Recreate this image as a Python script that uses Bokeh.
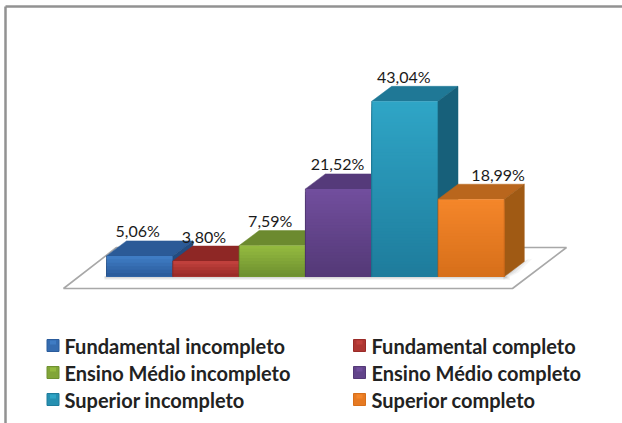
from bokeh.embed import file_html
from bokeh.resources import INLINE
from bokeh.plotting import figure
from bokeh.core.properties import value as fixed

# Education level shares, in percent
categories = ["Fundamental incompleto", "Fundamental completo", "Ensino Médio incompleto",
              "Ensino Médio completo", "Superior incompleto", "Superior completo"]
values = [5.06, 3.80, 7.59, 21.52, 43.04, 18.99]
labels = ["5,06%", "3,80%", "7,59%", "21,52%", "43,04%", "18,99%"]

front_light = ["#3f7cc4", "#c0403c", "#93b93f", "#714e9d", "#2fa5c6", "#f4862a"]
front_dark = ["#2b5c9c", "#9a2b28", "#6f9130", "#543977", "#1e7c9c", "#d76f1a"]
top_colors = ["#2b5a97", "#8e2725", "#6c8a2f", "#553a7a", "#1f7896", "#b9661d"]
side_colors = ["#234c80", "#7c201f", "#5a7526", "#462f66", "#17607a", "#a05a14"]
label_shift_px = [-2, -2, -2, -1, -1, 27]

W, H = 622, 423
PX_PER_BAR = 66.3
PX_PER_PCT = 4.07
LEFT_PX, BASE_PX = 106, 276
DX = 20 / PX_PER_BAR      # receding depth along x, in bar widths
DY = 15 / PX_PER_PCT      # receding depth along y, in percentage points


def px(x):
    return (x - LEFT_PX) / PX_PER_BAR


def py(y):
    return (BASE_PX - y) / PX_PER_PCT


def mix(a, b, t):
    ca = [int(a[i:i + 2], 16) for i in (1, 3, 5)]
    cb = [int(b[i:i + 2], 16) for i in (1, 3, 5)]
    return "#%02x%02x%02x" % tuple(round(u + (v - u) * t) for u, v in zip(ca, cb))


p = figure(width=W, height=H, output_backend="svg", toolbar_location=None,
           x_range=(px(0), px(W)), y_range=(py(H), py(0)),
           min_border=0, outline_line_color=None, background_fill_color="white")
p.axis.visible = False
p.grid.visible = False

# Outer frame: the top and left edges run off the page
p.line([px(5), px(5)], [py(H), py(6)], line_color="#929292", line_width=2.5)
p.line([px(5), px(W)], [py(6), py(6)], line_color="#929292", line_width=2.5)

# Floor plate
p.patch([px(63), px(512), px(566), px(116)], [py(288), py(288), py(247), py(247)],
        fill_color="white", line_color="#a8a8a8", line_width=1.6)

# Soft shadow falling on the floor
for grow, alpha in [(9, 0.07), (6, 0.10), (3, 0.14), (1, 0.18)]:
    p.patch([px(503), px(523), px(523 + grow), px(509 + grow), px(503)],
            [py(276), py(261), py(258), py(272), py(276 + grow * 0.4)],
            fill_color="#6e6e6e", fill_alpha=alpha, line_color=None)
    p.quad(left=px(104), right=px(505 + grow * 0.5), bottom=py(276 + grow * 0.4), top=py(276),
           fill_color="#6e6e6e", fill_alpha=alpha, line_color=None)

# Bars, left to right so that each one overlaps the side of the previous one
for i, v in enumerate(values):
    x0, x1 = i, i + 1
    p.patch([x0, x1, x1 + DX, x0 + DX], [v, v, v + DY, v + DY],
            fill_color=top_colors[i], line_color=top_colors[i], line_width=0.5)
    p.patch([x1, x1 + DX, x1 + DX, x1], [0, DY, v + DY, v],
            fill_color=side_colors[i], line_color=side_colors[i], line_width=0.5)
    # Front face shaded top to bottom; each band runs down to the base so no seams show
    n = max(int(v * PX_PER_PCT / 3), 3)
    for k in range(n):
        p.quad(left=x0, right=x1, top=v * (1 - k / n), bottom=0,
               fill_color=mix(front_light[i], front_dark[i], k / (n - 1)), line_color=None)
    # Darker seam on the vertical edges of the front face
    edge = mix(front_dark[i], "#000000", 0.18)
    p.line([x0, x0], [0, v], line_color=edge, line_width=1, line_alpha=0.7)
    p.line([x1, x1], [0, v], line_color=edge, line_width=1, line_alpha=0.7)

# Value labels sitting on the back edge of each bar
label_x = [i + 0.5 + s / PX_PER_BAR for i, s in enumerate(label_shift_px)]
label_y = [v + DY + 0.5 / PX_PER_PCT for v in values]
p.text(label_x, label_y, text=labels, text_font=fixed("Lato"), text_font_size="16px",
       text_color="#1a1a1a", text_align="center", text_baseline="bottom")

# Legend: two columns, three rows
rows = [345, 372, 399]
cols = [(46.5, 64), (353, 371)]
for i, name in enumerate(categories):
    marker_x, text_x = cols[i % 2]
    y = rows[i // 2]
    p.quad(left=px(marker_x), right=px(marker_x + 12), top=py(y - 6), bottom=py(y + 6),
           fill_color=mix(front_light[i], front_dark[i], 0.5), line_color=front_dark[i], line_width=1)
    p.quad(left=px(marker_x + 3), right=px(marker_x + 9), top=py(y - 5), bottom=py(y - 1),
           fill_color=front_light[i], line_color=None)
    p.text([px(text_x)], [py(y)], text=[name], text_font=fixed("Lato"), text_font_size="20px",
           text_font_style="bold", text_color="#222222", text_align="left", text_baseline="middle")

open("out.html", "w").write(file_html(p, INLINE))
